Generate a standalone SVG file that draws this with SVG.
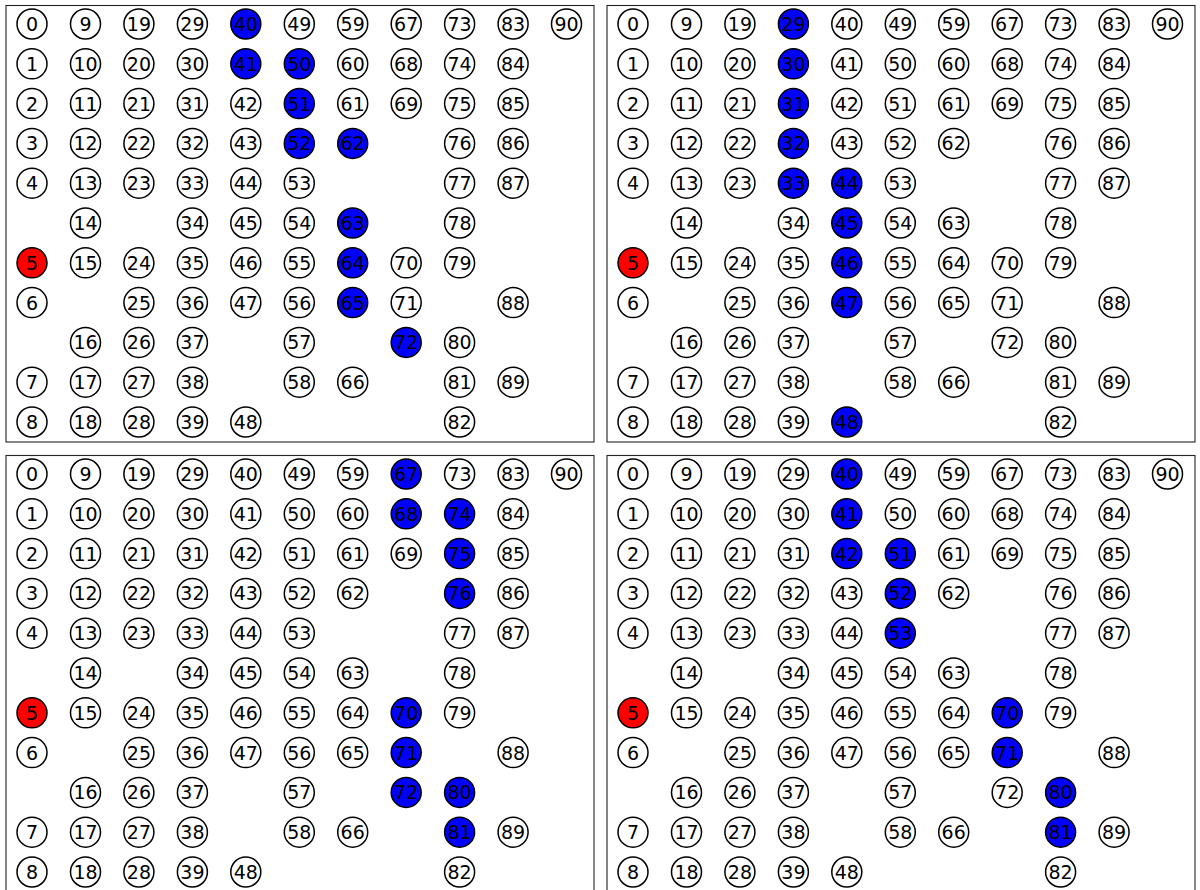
<svg xmlns="http://www.w3.org/2000/svg" width="1200" height="890" viewBox="0 0 1200 890">
<style>
.frame{fill:none;stroke:#222;stroke-width:1.1}
.n circle{fill:#fff;stroke:#000;stroke-width:1.5}
.n.b circle{fill:#0000ff}
.n.r circle{fill:#ff0000}
.n text{font-family:"DejaVu Sans",sans-serif;font-size:19px;text-anchor:middle;fill:#000}
</style>
<rect width="1200" height="890" fill="#fff"/>
<g id="panel-a">
<rect class="frame" x="6" y="5.5" width="588" height="436.5"/>
<g id="a0" class="n" transform="translate(32 24)"><circle r="15"/><text y="6.9">0</text></g>
<g id="a1" class="n" transform="translate(32 63.8)"><circle r="15"/><text y="6.9">1</text></g>
<g id="a2" class="n" transform="translate(32 103.6)"><circle r="15"/><text y="6.9">2</text></g>
<g id="a3" class="n" transform="translate(32 143.4)"><circle r="15"/><text y="6.9">3</text></g>
<g id="a4" class="n" transform="translate(32 183.2)"><circle r="15"/><text y="6.9">4</text></g>
<g id="a5" class="n r" transform="translate(32 262.8)"><circle r="15"/><text y="6.9">5</text></g>
<g id="a6" class="n" transform="translate(32 302.6)"><circle r="15"/><text y="6.9">6</text></g>
<g id="a7" class="n" transform="translate(32 382.2)"><circle r="15"/><text y="6.9">7</text></g>
<g id="a8" class="n" transform="translate(32 422)"><circle r="15"/><text y="6.9">8</text></g>
<g id="a9" class="n" transform="translate(85.5 24)"><circle r="15"/><text y="6.9">9</text></g>
<g id="a10" class="n" transform="translate(85.5 63.8)"><circle r="15"/><text y="6.9">10</text></g>
<g id="a11" class="n" transform="translate(85.5 103.6)"><circle r="15"/><text y="6.9">11</text></g>
<g id="a12" class="n" transform="translate(85.5 143.4)"><circle r="15"/><text y="6.9">12</text></g>
<g id="a13" class="n" transform="translate(85.5 183.2)"><circle r="15"/><text y="6.9">13</text></g>
<g id="a14" class="n" transform="translate(85.5 223)"><circle r="15"/><text y="6.9">14</text></g>
<g id="a15" class="n" transform="translate(85.5 262.8)"><circle r="15"/><text y="6.9">15</text></g>
<g id="a16" class="n" transform="translate(85.5 342.4)"><circle r="15"/><text y="6.9">16</text></g>
<g id="a17" class="n" transform="translate(85.5 382.2)"><circle r="15"/><text y="6.9">17</text></g>
<g id="a18" class="n" transform="translate(85.5 422)"><circle r="15"/><text y="6.9">18</text></g>
<g id="a19" class="n" transform="translate(138.9 24)"><circle r="15"/><text y="6.9">19</text></g>
<g id="a20" class="n" transform="translate(138.9 63.8)"><circle r="15"/><text y="6.9">20</text></g>
<g id="a21" class="n" transform="translate(138.9 103.6)"><circle r="15"/><text y="6.9">21</text></g>
<g id="a22" class="n" transform="translate(138.9 143.4)"><circle r="15"/><text y="6.9">22</text></g>
<g id="a23" class="n" transform="translate(138.9 183.2)"><circle r="15"/><text y="6.9">23</text></g>
<g id="a24" class="n" transform="translate(138.9 262.8)"><circle r="15"/><text y="6.9">24</text></g>
<g id="a25" class="n" transform="translate(138.9 302.6)"><circle r="15"/><text y="6.9">25</text></g>
<g id="a26" class="n" transform="translate(138.9 342.4)"><circle r="15"/><text y="6.9">26</text></g>
<g id="a27" class="n" transform="translate(138.9 382.2)"><circle r="15"/><text y="6.9">27</text></g>
<g id="a28" class="n" transform="translate(138.9 422)"><circle r="15"/><text y="6.9">28</text></g>
<g id="a29" class="n" transform="translate(192.4 24)"><circle r="15"/><text y="6.9">29</text></g>
<g id="a30" class="n" transform="translate(192.4 63.8)"><circle r="15"/><text y="6.9">30</text></g>
<g id="a31" class="n" transform="translate(192.4 103.6)"><circle r="15"/><text y="6.9">31</text></g>
<g id="a32" class="n" transform="translate(192.4 143.4)"><circle r="15"/><text y="6.9">32</text></g>
<g id="a33" class="n" transform="translate(192.4 183.2)"><circle r="15"/><text y="6.9">33</text></g>
<g id="a34" class="n" transform="translate(192.4 223)"><circle r="15"/><text y="6.9">34</text></g>
<g id="a35" class="n" transform="translate(192.4 262.8)"><circle r="15"/><text y="6.9">35</text></g>
<g id="a36" class="n" transform="translate(192.4 302.6)"><circle r="15"/><text y="6.9">36</text></g>
<g id="a37" class="n" transform="translate(192.4 342.4)"><circle r="15"/><text y="6.9">37</text></g>
<g id="a38" class="n" transform="translate(192.4 382.2)"><circle r="15"/><text y="6.9">38</text></g>
<g id="a39" class="n" transform="translate(192.4 422)"><circle r="15"/><text y="6.9">39</text></g>
<g id="a40" class="n b" transform="translate(245.8 24)"><circle r="15"/><text y="6.9">40</text></g>
<g id="a41" class="n b" transform="translate(245.8 63.8)"><circle r="15"/><text y="6.9">41</text></g>
<g id="a42" class="n" transform="translate(245.8 103.6)"><circle r="15"/><text y="6.9">42</text></g>
<g id="a43" class="n" transform="translate(245.8 143.4)"><circle r="15"/><text y="6.9">43</text></g>
<g id="a44" class="n" transform="translate(245.8 183.2)"><circle r="15"/><text y="6.9">44</text></g>
<g id="a45" class="n" transform="translate(245.8 223)"><circle r="15"/><text y="6.9">45</text></g>
<g id="a46" class="n" transform="translate(245.8 262.8)"><circle r="15"/><text y="6.9">46</text></g>
<g id="a47" class="n" transform="translate(245.8 302.6)"><circle r="15"/><text y="6.9">47</text></g>
<g id="a48" class="n" transform="translate(245.8 422)"><circle r="15"/><text y="6.9">48</text></g>
<g id="a49" class="n" transform="translate(299.3 24)"><circle r="15"/><text y="6.9">49</text></g>
<g id="a50" class="n b" transform="translate(299.3 63.8)"><circle r="15"/><text y="6.9">50</text></g>
<g id="a51" class="n b" transform="translate(299.3 103.6)"><circle r="15"/><text y="6.9">51</text></g>
<g id="a52" class="n b" transform="translate(299.3 143.4)"><circle r="15"/><text y="6.9">52</text></g>
<g id="a53" class="n" transform="translate(299.3 183.2)"><circle r="15"/><text y="6.9">53</text></g>
<g id="a54" class="n" transform="translate(299.3 223)"><circle r="15"/><text y="6.9">54</text></g>
<g id="a55" class="n" transform="translate(299.3 262.8)"><circle r="15"/><text y="6.9">55</text></g>
<g id="a56" class="n" transform="translate(299.3 302.6)"><circle r="15"/><text y="6.9">56</text></g>
<g id="a57" class="n" transform="translate(299.3 342.4)"><circle r="15"/><text y="6.9">57</text></g>
<g id="a58" class="n" transform="translate(299.3 382.2)"><circle r="15"/><text y="6.9">58</text></g>
<g id="a59" class="n" transform="translate(352.7 24)"><circle r="15"/><text y="6.9">59</text></g>
<g id="a60" class="n" transform="translate(352.7 63.8)"><circle r="15"/><text y="6.9">60</text></g>
<g id="a61" class="n" transform="translate(352.7 103.6)"><circle r="15"/><text y="6.9">61</text></g>
<g id="a62" class="n b" transform="translate(352.7 143.4)"><circle r="15"/><text y="6.9">62</text></g>
<g id="a63" class="n b" transform="translate(352.7 223)"><circle r="15"/><text y="6.9">63</text></g>
<g id="a64" class="n b" transform="translate(352.7 262.8)"><circle r="15"/><text y="6.9">64</text></g>
<g id="a65" class="n b" transform="translate(352.7 302.6)"><circle r="15"/><text y="6.9">65</text></g>
<g id="a66" class="n" transform="translate(352.7 382.2)"><circle r="15"/><text y="6.9">66</text></g>
<g id="a67" class="n" transform="translate(406.2 24)"><circle r="15"/><text y="6.9">67</text></g>
<g id="a68" class="n" transform="translate(406.2 63.8)"><circle r="15"/><text y="6.9">68</text></g>
<g id="a69" class="n" transform="translate(406.2 103.6)"><circle r="15"/><text y="6.9">69</text></g>
<g id="a70" class="n" transform="translate(406.2 262.8)"><circle r="15"/><text y="6.9">70</text></g>
<g id="a71" class="n" transform="translate(406.2 302.6)"><circle r="15"/><text y="6.9">71</text></g>
<g id="a72" class="n b" transform="translate(406.2 342.4)"><circle r="15"/><text y="6.9">72</text></g>
<g id="a73" class="n" transform="translate(459.6 24)"><circle r="15"/><text y="6.9">73</text></g>
<g id="a74" class="n" transform="translate(459.6 63.8)"><circle r="15"/><text y="6.9">74</text></g>
<g id="a75" class="n" transform="translate(459.6 103.6)"><circle r="15"/><text y="6.9">75</text></g>
<g id="a76" class="n" transform="translate(459.6 143.4)"><circle r="15"/><text y="6.9">76</text></g>
<g id="a77" class="n" transform="translate(459.6 183.2)"><circle r="15"/><text y="6.9">77</text></g>
<g id="a78" class="n" transform="translate(459.6 223)"><circle r="15"/><text y="6.9">78</text></g>
<g id="a79" class="n" transform="translate(459.6 262.8)"><circle r="15"/><text y="6.9">79</text></g>
<g id="a80" class="n" transform="translate(459.6 342.4)"><circle r="15"/><text y="6.9">80</text></g>
<g id="a81" class="n" transform="translate(459.6 382.2)"><circle r="15"/><text y="6.9">81</text></g>
<g id="a82" class="n" transform="translate(459.6 422)"><circle r="15"/><text y="6.9">82</text></g>
<g id="a83" class="n" transform="translate(513.1 24)"><circle r="15"/><text y="6.9">83</text></g>
<g id="a84" class="n" transform="translate(513.1 63.8)"><circle r="15"/><text y="6.9">84</text></g>
<g id="a85" class="n" transform="translate(513.1 103.6)"><circle r="15"/><text y="6.9">85</text></g>
<g id="a86" class="n" transform="translate(513.1 143.4)"><circle r="15"/><text y="6.9">86</text></g>
<g id="a87" class="n" transform="translate(513.1 183.2)"><circle r="15"/><text y="6.9">87</text></g>
<g id="a88" class="n" transform="translate(513.1 302.6)"><circle r="15"/><text y="6.9">88</text></g>
<g id="a89" class="n" transform="translate(513.1 382.2)"><circle r="15"/><text y="6.9">89</text></g>
<g id="a90" class="n" transform="translate(566.5 24)"><circle r="15"/><text y="6.9">90</text></g>
</g>
<g id="panel-b" transform="translate(601 0)">
<rect class="frame" x="6" y="5.5" width="588" height="436.5"/>
<g id="b0" class="n" transform="translate(32 24)"><circle r="15"/><text y="6.9">0</text></g>
<g id="b1" class="n" transform="translate(32 63.8)"><circle r="15"/><text y="6.9">1</text></g>
<g id="b2" class="n" transform="translate(32 103.6)"><circle r="15"/><text y="6.9">2</text></g>
<g id="b3" class="n" transform="translate(32 143.4)"><circle r="15"/><text y="6.9">3</text></g>
<g id="b4" class="n" transform="translate(32 183.2)"><circle r="15"/><text y="6.9">4</text></g>
<g id="b5" class="n r" transform="translate(32 262.8)"><circle r="15"/><text y="6.9">5</text></g>
<g id="b6" class="n" transform="translate(32 302.6)"><circle r="15"/><text y="6.9">6</text></g>
<g id="b7" class="n" transform="translate(32 382.2)"><circle r="15"/><text y="6.9">7</text></g>
<g id="b8" class="n" transform="translate(32 422)"><circle r="15"/><text y="6.9">8</text></g>
<g id="b9" class="n" transform="translate(85.5 24)"><circle r="15"/><text y="6.9">9</text></g>
<g id="b10" class="n" transform="translate(85.5 63.8)"><circle r="15"/><text y="6.9">10</text></g>
<g id="b11" class="n" transform="translate(85.5 103.6)"><circle r="15"/><text y="6.9">11</text></g>
<g id="b12" class="n" transform="translate(85.5 143.4)"><circle r="15"/><text y="6.9">12</text></g>
<g id="b13" class="n" transform="translate(85.5 183.2)"><circle r="15"/><text y="6.9">13</text></g>
<g id="b14" class="n" transform="translate(85.5 223)"><circle r="15"/><text y="6.9">14</text></g>
<g id="b15" class="n" transform="translate(85.5 262.8)"><circle r="15"/><text y="6.9">15</text></g>
<g id="b16" class="n" transform="translate(85.5 342.4)"><circle r="15"/><text y="6.9">16</text></g>
<g id="b17" class="n" transform="translate(85.5 382.2)"><circle r="15"/><text y="6.9">17</text></g>
<g id="b18" class="n" transform="translate(85.5 422)"><circle r="15"/><text y="6.9">18</text></g>
<g id="b19" class="n" transform="translate(138.9 24)"><circle r="15"/><text y="6.9">19</text></g>
<g id="b20" class="n" transform="translate(138.9 63.8)"><circle r="15"/><text y="6.9">20</text></g>
<g id="b21" class="n" transform="translate(138.9 103.6)"><circle r="15"/><text y="6.9">21</text></g>
<g id="b22" class="n" transform="translate(138.9 143.4)"><circle r="15"/><text y="6.9">22</text></g>
<g id="b23" class="n" transform="translate(138.9 183.2)"><circle r="15"/><text y="6.9">23</text></g>
<g id="b24" class="n" transform="translate(138.9 262.8)"><circle r="15"/><text y="6.9">24</text></g>
<g id="b25" class="n" transform="translate(138.9 302.6)"><circle r="15"/><text y="6.9">25</text></g>
<g id="b26" class="n" transform="translate(138.9 342.4)"><circle r="15"/><text y="6.9">26</text></g>
<g id="b27" class="n" transform="translate(138.9 382.2)"><circle r="15"/><text y="6.9">27</text></g>
<g id="b28" class="n" transform="translate(138.9 422)"><circle r="15"/><text y="6.9">28</text></g>
<g id="b29" class="n b" transform="translate(192.4 24)"><circle r="15"/><text y="6.9">29</text></g>
<g id="b30" class="n b" transform="translate(192.4 63.8)"><circle r="15"/><text y="6.9">30</text></g>
<g id="b31" class="n b" transform="translate(192.4 103.6)"><circle r="15"/><text y="6.9">31</text></g>
<g id="b32" class="n b" transform="translate(192.4 143.4)"><circle r="15"/><text y="6.9">32</text></g>
<g id="b33" class="n b" transform="translate(192.4 183.2)"><circle r="15"/><text y="6.9">33</text></g>
<g id="b34" class="n" transform="translate(192.4 223)"><circle r="15"/><text y="6.9">34</text></g>
<g id="b35" class="n" transform="translate(192.4 262.8)"><circle r="15"/><text y="6.9">35</text></g>
<g id="b36" class="n" transform="translate(192.4 302.6)"><circle r="15"/><text y="6.9">36</text></g>
<g id="b37" class="n" transform="translate(192.4 342.4)"><circle r="15"/><text y="6.9">37</text></g>
<g id="b38" class="n" transform="translate(192.4 382.2)"><circle r="15"/><text y="6.9">38</text></g>
<g id="b39" class="n" transform="translate(192.4 422)"><circle r="15"/><text y="6.9">39</text></g>
<g id="b40" class="n" transform="translate(245.8 24)"><circle r="15"/><text y="6.9">40</text></g>
<g id="b41" class="n" transform="translate(245.8 63.8)"><circle r="15"/><text y="6.9">41</text></g>
<g id="b42" class="n" transform="translate(245.8 103.6)"><circle r="15"/><text y="6.9">42</text></g>
<g id="b43" class="n" transform="translate(245.8 143.4)"><circle r="15"/><text y="6.9">43</text></g>
<g id="b44" class="n b" transform="translate(245.8 183.2)"><circle r="15"/><text y="6.9">44</text></g>
<g id="b45" class="n b" transform="translate(245.8 223)"><circle r="15"/><text y="6.9">45</text></g>
<g id="b46" class="n b" transform="translate(245.8 262.8)"><circle r="15"/><text y="6.9">46</text></g>
<g id="b47" class="n b" transform="translate(245.8 302.6)"><circle r="15"/><text y="6.9">47</text></g>
<g id="b48" class="n b" transform="translate(245.8 422)"><circle r="15"/><text y="6.9">48</text></g>
<g id="b49" class="n" transform="translate(299.3 24)"><circle r="15"/><text y="6.9">49</text></g>
<g id="b50" class="n" transform="translate(299.3 63.8)"><circle r="15"/><text y="6.9">50</text></g>
<g id="b51" class="n" transform="translate(299.3 103.6)"><circle r="15"/><text y="6.9">51</text></g>
<g id="b52" class="n" transform="translate(299.3 143.4)"><circle r="15"/><text y="6.9">52</text></g>
<g id="b53" class="n" transform="translate(299.3 183.2)"><circle r="15"/><text y="6.9">53</text></g>
<g id="b54" class="n" transform="translate(299.3 223)"><circle r="15"/><text y="6.9">54</text></g>
<g id="b55" class="n" transform="translate(299.3 262.8)"><circle r="15"/><text y="6.9">55</text></g>
<g id="b56" class="n" transform="translate(299.3 302.6)"><circle r="15"/><text y="6.9">56</text></g>
<g id="b57" class="n" transform="translate(299.3 342.4)"><circle r="15"/><text y="6.9">57</text></g>
<g id="b58" class="n" transform="translate(299.3 382.2)"><circle r="15"/><text y="6.9">58</text></g>
<g id="b59" class="n" transform="translate(352.7 24)"><circle r="15"/><text y="6.9">59</text></g>
<g id="b60" class="n" transform="translate(352.7 63.8)"><circle r="15"/><text y="6.9">60</text></g>
<g id="b61" class="n" transform="translate(352.7 103.6)"><circle r="15"/><text y="6.9">61</text></g>
<g id="b62" class="n" transform="translate(352.7 143.4)"><circle r="15"/><text y="6.9">62</text></g>
<g id="b63" class="n" transform="translate(352.7 223)"><circle r="15"/><text y="6.9">63</text></g>
<g id="b64" class="n" transform="translate(352.7 262.8)"><circle r="15"/><text y="6.9">64</text></g>
<g id="b65" class="n" transform="translate(352.7 302.6)"><circle r="15"/><text y="6.9">65</text></g>
<g id="b66" class="n" transform="translate(352.7 382.2)"><circle r="15"/><text y="6.9">66</text></g>
<g id="b67" class="n" transform="translate(406.2 24)"><circle r="15"/><text y="6.9">67</text></g>
<g id="b68" class="n" transform="translate(406.2 63.8)"><circle r="15"/><text y="6.9">68</text></g>
<g id="b69" class="n" transform="translate(406.2 103.6)"><circle r="15"/><text y="6.9">69</text></g>
<g id="b70" class="n" transform="translate(406.2 262.8)"><circle r="15"/><text y="6.9">70</text></g>
<g id="b71" class="n" transform="translate(406.2 302.6)"><circle r="15"/><text y="6.9">71</text></g>
<g id="b72" class="n" transform="translate(406.2 342.4)"><circle r="15"/><text y="6.9">72</text></g>
<g id="b73" class="n" transform="translate(459.6 24)"><circle r="15"/><text y="6.9">73</text></g>
<g id="b74" class="n" transform="translate(459.6 63.8)"><circle r="15"/><text y="6.9">74</text></g>
<g id="b75" class="n" transform="translate(459.6 103.6)"><circle r="15"/><text y="6.9">75</text></g>
<g id="b76" class="n" transform="translate(459.6 143.4)"><circle r="15"/><text y="6.9">76</text></g>
<g id="b77" class="n" transform="translate(459.6 183.2)"><circle r="15"/><text y="6.9">77</text></g>
<g id="b78" class="n" transform="translate(459.6 223)"><circle r="15"/><text y="6.9">78</text></g>
<g id="b79" class="n" transform="translate(459.6 262.8)"><circle r="15"/><text y="6.9">79</text></g>
<g id="b80" class="n" transform="translate(459.6 342.4)"><circle r="15"/><text y="6.9">80</text></g>
<g id="b81" class="n" transform="translate(459.6 382.2)"><circle r="15"/><text y="6.9">81</text></g>
<g id="b82" class="n" transform="translate(459.6 422)"><circle r="15"/><text y="6.9">82</text></g>
<g id="b83" class="n" transform="translate(513.1 24)"><circle r="15"/><text y="6.9">83</text></g>
<g id="b84" class="n" transform="translate(513.1 63.8)"><circle r="15"/><text y="6.9">84</text></g>
<g id="b85" class="n" transform="translate(513.1 103.6)"><circle r="15"/><text y="6.9">85</text></g>
<g id="b86" class="n" transform="translate(513.1 143.4)"><circle r="15"/><text y="6.9">86</text></g>
<g id="b87" class="n" transform="translate(513.1 183.2)"><circle r="15"/><text y="6.9">87</text></g>
<g id="b88" class="n" transform="translate(513.1 302.6)"><circle r="15"/><text y="6.9">88</text></g>
<g id="b89" class="n" transform="translate(513.1 382.2)"><circle r="15"/><text y="6.9">89</text></g>
<g id="b90" class="n" transform="translate(566.5 24)"><circle r="15"/><text y="6.9">90</text></g>
</g>
<g id="panel-c" transform="translate(0 450)">
<rect class="frame" x="6" y="5.5" width="588" height="450"/>
<g id="c0" class="n" transform="translate(32 24)"><circle r="15"/><text y="6.9">0</text></g>
<g id="c1" class="n" transform="translate(32 63.8)"><circle r="15"/><text y="6.9">1</text></g>
<g id="c2" class="n" transform="translate(32 103.6)"><circle r="15"/><text y="6.9">2</text></g>
<g id="c3" class="n" transform="translate(32 143.4)"><circle r="15"/><text y="6.9">3</text></g>
<g id="c4" class="n" transform="translate(32 183.2)"><circle r="15"/><text y="6.9">4</text></g>
<g id="c5" class="n r" transform="translate(32 262.8)"><circle r="15"/><text y="6.9">5</text></g>
<g id="c6" class="n" transform="translate(32 302.6)"><circle r="15"/><text y="6.9">6</text></g>
<g id="c7" class="n" transform="translate(32 382.2)"><circle r="15"/><text y="6.9">7</text></g>
<g id="c8" class="n" transform="translate(32 422)"><circle r="15"/><text y="6.9">8</text></g>
<g id="c9" class="n" transform="translate(85.5 24)"><circle r="15"/><text y="6.9">9</text></g>
<g id="c10" class="n" transform="translate(85.5 63.8)"><circle r="15"/><text y="6.9">10</text></g>
<g id="c11" class="n" transform="translate(85.5 103.6)"><circle r="15"/><text y="6.9">11</text></g>
<g id="c12" class="n" transform="translate(85.5 143.4)"><circle r="15"/><text y="6.9">12</text></g>
<g id="c13" class="n" transform="translate(85.5 183.2)"><circle r="15"/><text y="6.9">13</text></g>
<g id="c14" class="n" transform="translate(85.5 223)"><circle r="15"/><text y="6.9">14</text></g>
<g id="c15" class="n" transform="translate(85.5 262.8)"><circle r="15"/><text y="6.9">15</text></g>
<g id="c16" class="n" transform="translate(85.5 342.4)"><circle r="15"/><text y="6.9">16</text></g>
<g id="c17" class="n" transform="translate(85.5 382.2)"><circle r="15"/><text y="6.9">17</text></g>
<g id="c18" class="n" transform="translate(85.5 422)"><circle r="15"/><text y="6.9">18</text></g>
<g id="c19" class="n" transform="translate(138.9 24)"><circle r="15"/><text y="6.9">19</text></g>
<g id="c20" class="n" transform="translate(138.9 63.8)"><circle r="15"/><text y="6.9">20</text></g>
<g id="c21" class="n" transform="translate(138.9 103.6)"><circle r="15"/><text y="6.9">21</text></g>
<g id="c22" class="n" transform="translate(138.9 143.4)"><circle r="15"/><text y="6.9">22</text></g>
<g id="c23" class="n" transform="translate(138.9 183.2)"><circle r="15"/><text y="6.9">23</text></g>
<g id="c24" class="n" transform="translate(138.9 262.8)"><circle r="15"/><text y="6.9">24</text></g>
<g id="c25" class="n" transform="translate(138.9 302.6)"><circle r="15"/><text y="6.9">25</text></g>
<g id="c26" class="n" transform="translate(138.9 342.4)"><circle r="15"/><text y="6.9">26</text></g>
<g id="c27" class="n" transform="translate(138.9 382.2)"><circle r="15"/><text y="6.9">27</text></g>
<g id="c28" class="n" transform="translate(138.9 422)"><circle r="15"/><text y="6.9">28</text></g>
<g id="c29" class="n" transform="translate(192.4 24)"><circle r="15"/><text y="6.9">29</text></g>
<g id="c30" class="n" transform="translate(192.4 63.8)"><circle r="15"/><text y="6.9">30</text></g>
<g id="c31" class="n" transform="translate(192.4 103.6)"><circle r="15"/><text y="6.9">31</text></g>
<g id="c32" class="n" transform="translate(192.4 143.4)"><circle r="15"/><text y="6.9">32</text></g>
<g id="c33" class="n" transform="translate(192.4 183.2)"><circle r="15"/><text y="6.9">33</text></g>
<g id="c34" class="n" transform="translate(192.4 223)"><circle r="15"/><text y="6.9">34</text></g>
<g id="c35" class="n" transform="translate(192.4 262.8)"><circle r="15"/><text y="6.9">35</text></g>
<g id="c36" class="n" transform="translate(192.4 302.6)"><circle r="15"/><text y="6.9">36</text></g>
<g id="c37" class="n" transform="translate(192.4 342.4)"><circle r="15"/><text y="6.9">37</text></g>
<g id="c38" class="n" transform="translate(192.4 382.2)"><circle r="15"/><text y="6.9">38</text></g>
<g id="c39" class="n" transform="translate(192.4 422)"><circle r="15"/><text y="6.9">39</text></g>
<g id="c40" class="n" transform="translate(245.8 24)"><circle r="15"/><text y="6.9">40</text></g>
<g id="c41" class="n" transform="translate(245.8 63.8)"><circle r="15"/><text y="6.9">41</text></g>
<g id="c42" class="n" transform="translate(245.8 103.6)"><circle r="15"/><text y="6.9">42</text></g>
<g id="c43" class="n" transform="translate(245.8 143.4)"><circle r="15"/><text y="6.9">43</text></g>
<g id="c44" class="n" transform="translate(245.8 183.2)"><circle r="15"/><text y="6.9">44</text></g>
<g id="c45" class="n" transform="translate(245.8 223)"><circle r="15"/><text y="6.9">45</text></g>
<g id="c46" class="n" transform="translate(245.8 262.8)"><circle r="15"/><text y="6.9">46</text></g>
<g id="c47" class="n" transform="translate(245.8 302.6)"><circle r="15"/><text y="6.9">47</text></g>
<g id="c48" class="n" transform="translate(245.8 422)"><circle r="15"/><text y="6.9">48</text></g>
<g id="c49" class="n" transform="translate(299.3 24)"><circle r="15"/><text y="6.9">49</text></g>
<g id="c50" class="n" transform="translate(299.3 63.8)"><circle r="15"/><text y="6.9">50</text></g>
<g id="c51" class="n" transform="translate(299.3 103.6)"><circle r="15"/><text y="6.9">51</text></g>
<g id="c52" class="n" transform="translate(299.3 143.4)"><circle r="15"/><text y="6.9">52</text></g>
<g id="c53" class="n" transform="translate(299.3 183.2)"><circle r="15"/><text y="6.9">53</text></g>
<g id="c54" class="n" transform="translate(299.3 223)"><circle r="15"/><text y="6.9">54</text></g>
<g id="c55" class="n" transform="translate(299.3 262.8)"><circle r="15"/><text y="6.9">55</text></g>
<g id="c56" class="n" transform="translate(299.3 302.6)"><circle r="15"/><text y="6.9">56</text></g>
<g id="c57" class="n" transform="translate(299.3 342.4)"><circle r="15"/><text y="6.9">57</text></g>
<g id="c58" class="n" transform="translate(299.3 382.2)"><circle r="15"/><text y="6.9">58</text></g>
<g id="c59" class="n" transform="translate(352.7 24)"><circle r="15"/><text y="6.9">59</text></g>
<g id="c60" class="n" transform="translate(352.7 63.8)"><circle r="15"/><text y="6.9">60</text></g>
<g id="c61" class="n" transform="translate(352.7 103.6)"><circle r="15"/><text y="6.9">61</text></g>
<g id="c62" class="n" transform="translate(352.7 143.4)"><circle r="15"/><text y="6.9">62</text></g>
<g id="c63" class="n" transform="translate(352.7 223)"><circle r="15"/><text y="6.9">63</text></g>
<g id="c64" class="n" transform="translate(352.7 262.8)"><circle r="15"/><text y="6.9">64</text></g>
<g id="c65" class="n" transform="translate(352.7 302.6)"><circle r="15"/><text y="6.9">65</text></g>
<g id="c66" class="n" transform="translate(352.7 382.2)"><circle r="15"/><text y="6.9">66</text></g>
<g id="c67" class="n b" transform="translate(406.2 24)"><circle r="15"/><text y="6.9">67</text></g>
<g id="c68" class="n b" transform="translate(406.2 63.8)"><circle r="15"/><text y="6.9">68</text></g>
<g id="c69" class="n" transform="translate(406.2 103.6)"><circle r="15"/><text y="6.9">69</text></g>
<g id="c70" class="n b" transform="translate(406.2 262.8)"><circle r="15"/><text y="6.9">70</text></g>
<g id="c71" class="n b" transform="translate(406.2 302.6)"><circle r="15"/><text y="6.9">71</text></g>
<g id="c72" class="n b" transform="translate(406.2 342.4)"><circle r="15"/><text y="6.9">72</text></g>
<g id="c73" class="n" transform="translate(459.6 24)"><circle r="15"/><text y="6.9">73</text></g>
<g id="c74" class="n b" transform="translate(459.6 63.8)"><circle r="15"/><text y="6.9">74</text></g>
<g id="c75" class="n b" transform="translate(459.6 103.6)"><circle r="15"/><text y="6.9">75</text></g>
<g id="c76" class="n b" transform="translate(459.6 143.4)"><circle r="15"/><text y="6.9">76</text></g>
<g id="c77" class="n" transform="translate(459.6 183.2)"><circle r="15"/><text y="6.9">77</text></g>
<g id="c78" class="n" transform="translate(459.6 223)"><circle r="15"/><text y="6.9">78</text></g>
<g id="c79" class="n" transform="translate(459.6 262.8)"><circle r="15"/><text y="6.9">79</text></g>
<g id="c80" class="n b" transform="translate(459.6 342.4)"><circle r="15"/><text y="6.9">80</text></g>
<g id="c81" class="n b" transform="translate(459.6 382.2)"><circle r="15"/><text y="6.9">81</text></g>
<g id="c82" class="n" transform="translate(459.6 422)"><circle r="15"/><text y="6.9">82</text></g>
<g id="c83" class="n" transform="translate(513.1 24)"><circle r="15"/><text y="6.9">83</text></g>
<g id="c84" class="n" transform="translate(513.1 63.8)"><circle r="15"/><text y="6.9">84</text></g>
<g id="c85" class="n" transform="translate(513.1 103.6)"><circle r="15"/><text y="6.9">85</text></g>
<g id="c86" class="n" transform="translate(513.1 143.4)"><circle r="15"/><text y="6.9">86</text></g>
<g id="c87" class="n" transform="translate(513.1 183.2)"><circle r="15"/><text y="6.9">87</text></g>
<g id="c88" class="n" transform="translate(513.1 302.6)"><circle r="15"/><text y="6.9">88</text></g>
<g id="c89" class="n" transform="translate(513.1 382.2)"><circle r="15"/><text y="6.9">89</text></g>
<g id="c90" class="n" transform="translate(566.5 24)"><circle r="15"/><text y="6.9">90</text></g>
</g>
<g id="panel-d" transform="translate(601 450)">
<rect class="frame" x="6" y="5.5" width="588" height="450"/>
<g id="d0" class="n" transform="translate(32 24)"><circle r="15"/><text y="6.9">0</text></g>
<g id="d1" class="n" transform="translate(32 63.8)"><circle r="15"/><text y="6.9">1</text></g>
<g id="d2" class="n" transform="translate(32 103.6)"><circle r="15"/><text y="6.9">2</text></g>
<g id="d3" class="n" transform="translate(32 143.4)"><circle r="15"/><text y="6.9">3</text></g>
<g id="d4" class="n" transform="translate(32 183.2)"><circle r="15"/><text y="6.9">4</text></g>
<g id="d5" class="n r" transform="translate(32 262.8)"><circle r="15"/><text y="6.9">5</text></g>
<g id="d6" class="n" transform="translate(32 302.6)"><circle r="15"/><text y="6.9">6</text></g>
<g id="d7" class="n" transform="translate(32 382.2)"><circle r="15"/><text y="6.9">7</text></g>
<g id="d8" class="n" transform="translate(32 422)"><circle r="15"/><text y="6.9">8</text></g>
<g id="d9" class="n" transform="translate(85.5 24)"><circle r="15"/><text y="6.9">9</text></g>
<g id="d10" class="n" transform="translate(85.5 63.8)"><circle r="15"/><text y="6.9">10</text></g>
<g id="d11" class="n" transform="translate(85.5 103.6)"><circle r="15"/><text y="6.9">11</text></g>
<g id="d12" class="n" transform="translate(85.5 143.4)"><circle r="15"/><text y="6.9">12</text></g>
<g id="d13" class="n" transform="translate(85.5 183.2)"><circle r="15"/><text y="6.9">13</text></g>
<g id="d14" class="n" transform="translate(85.5 223)"><circle r="15"/><text y="6.9">14</text></g>
<g id="d15" class="n" transform="translate(85.5 262.8)"><circle r="15"/><text y="6.9">15</text></g>
<g id="d16" class="n" transform="translate(85.5 342.4)"><circle r="15"/><text y="6.9">16</text></g>
<g id="d17" class="n" transform="translate(85.5 382.2)"><circle r="15"/><text y="6.9">17</text></g>
<g id="d18" class="n" transform="translate(85.5 422)"><circle r="15"/><text y="6.9">18</text></g>
<g id="d19" class="n" transform="translate(138.9 24)"><circle r="15"/><text y="6.9">19</text></g>
<g id="d20" class="n" transform="translate(138.9 63.8)"><circle r="15"/><text y="6.9">20</text></g>
<g id="d21" class="n" transform="translate(138.9 103.6)"><circle r="15"/><text y="6.9">21</text></g>
<g id="d22" class="n" transform="translate(138.9 143.4)"><circle r="15"/><text y="6.9">22</text></g>
<g id="d23" class="n" transform="translate(138.9 183.2)"><circle r="15"/><text y="6.9">23</text></g>
<g id="d24" class="n" transform="translate(138.9 262.8)"><circle r="15"/><text y="6.9">24</text></g>
<g id="d25" class="n" transform="translate(138.9 302.6)"><circle r="15"/><text y="6.9">25</text></g>
<g id="d26" class="n" transform="translate(138.9 342.4)"><circle r="15"/><text y="6.9">26</text></g>
<g id="d27" class="n" transform="translate(138.9 382.2)"><circle r="15"/><text y="6.9">27</text></g>
<g id="d28" class="n" transform="translate(138.9 422)"><circle r="15"/><text y="6.9">28</text></g>
<g id="d29" class="n" transform="translate(192.4 24)"><circle r="15"/><text y="6.9">29</text></g>
<g id="d30" class="n" transform="translate(192.4 63.8)"><circle r="15"/><text y="6.9">30</text></g>
<g id="d31" class="n" transform="translate(192.4 103.6)"><circle r="15"/><text y="6.9">31</text></g>
<g id="d32" class="n" transform="translate(192.4 143.4)"><circle r="15"/><text y="6.9">32</text></g>
<g id="d33" class="n" transform="translate(192.4 183.2)"><circle r="15"/><text y="6.9">33</text></g>
<g id="d34" class="n" transform="translate(192.4 223)"><circle r="15"/><text y="6.9">34</text></g>
<g id="d35" class="n" transform="translate(192.4 262.8)"><circle r="15"/><text y="6.9">35</text></g>
<g id="d36" class="n" transform="translate(192.4 302.6)"><circle r="15"/><text y="6.9">36</text></g>
<g id="d37" class="n" transform="translate(192.4 342.4)"><circle r="15"/><text y="6.9">37</text></g>
<g id="d38" class="n" transform="translate(192.4 382.2)"><circle r="15"/><text y="6.9">38</text></g>
<g id="d39" class="n" transform="translate(192.4 422)"><circle r="15"/><text y="6.9">39</text></g>
<g id="d40" class="n b" transform="translate(245.8 24)"><circle r="15"/><text y="6.9">40</text></g>
<g id="d41" class="n b" transform="translate(245.8 63.8)"><circle r="15"/><text y="6.9">41</text></g>
<g id="d42" class="n b" transform="translate(245.8 103.6)"><circle r="15"/><text y="6.9">42</text></g>
<g id="d43" class="n" transform="translate(245.8 143.4)"><circle r="15"/><text y="6.9">43</text></g>
<g id="d44" class="n" transform="translate(245.8 183.2)"><circle r="15"/><text y="6.9">44</text></g>
<g id="d45" class="n" transform="translate(245.8 223)"><circle r="15"/><text y="6.9">45</text></g>
<g id="d46" class="n" transform="translate(245.8 262.8)"><circle r="15"/><text y="6.9">46</text></g>
<g id="d47" class="n" transform="translate(245.8 302.6)"><circle r="15"/><text y="6.9">47</text></g>
<g id="d48" class="n" transform="translate(245.8 422)"><circle r="15"/><text y="6.9">48</text></g>
<g id="d49" class="n" transform="translate(299.3 24)"><circle r="15"/><text y="6.9">49</text></g>
<g id="d50" class="n" transform="translate(299.3 63.8)"><circle r="15"/><text y="6.9">50</text></g>
<g id="d51" class="n b" transform="translate(299.3 103.6)"><circle r="15"/><text y="6.9">51</text></g>
<g id="d52" class="n b" transform="translate(299.3 143.4)"><circle r="15"/><text y="6.9">52</text></g>
<g id="d53" class="n b" transform="translate(299.3 183.2)"><circle r="15"/><text y="6.9">53</text></g>
<g id="d54" class="n" transform="translate(299.3 223)"><circle r="15"/><text y="6.9">54</text></g>
<g id="d55" class="n" transform="translate(299.3 262.8)"><circle r="15"/><text y="6.9">55</text></g>
<g id="d56" class="n" transform="translate(299.3 302.6)"><circle r="15"/><text y="6.9">56</text></g>
<g id="d57" class="n" transform="translate(299.3 342.4)"><circle r="15"/><text y="6.9">57</text></g>
<g id="d58" class="n" transform="translate(299.3 382.2)"><circle r="15"/><text y="6.9">58</text></g>
<g id="d59" class="n" transform="translate(352.7 24)"><circle r="15"/><text y="6.9">59</text></g>
<g id="d60" class="n" transform="translate(352.7 63.8)"><circle r="15"/><text y="6.9">60</text></g>
<g id="d61" class="n" transform="translate(352.7 103.6)"><circle r="15"/><text y="6.9">61</text></g>
<g id="d62" class="n" transform="translate(352.7 143.4)"><circle r="15"/><text y="6.9">62</text></g>
<g id="d63" class="n" transform="translate(352.7 223)"><circle r="15"/><text y="6.9">63</text></g>
<g id="d64" class="n" transform="translate(352.7 262.8)"><circle r="15"/><text y="6.9">64</text></g>
<g id="d65" class="n" transform="translate(352.7 302.6)"><circle r="15"/><text y="6.9">65</text></g>
<g id="d66" class="n" transform="translate(352.7 382.2)"><circle r="15"/><text y="6.9">66</text></g>
<g id="d67" class="n" transform="translate(406.2 24)"><circle r="15"/><text y="6.9">67</text></g>
<g id="d68" class="n" transform="translate(406.2 63.8)"><circle r="15"/><text y="6.9">68</text></g>
<g id="d69" class="n" transform="translate(406.2 103.6)"><circle r="15"/><text y="6.9">69</text></g>
<g id="d70" class="n b" transform="translate(406.2 262.8)"><circle r="15"/><text y="6.9">70</text></g>
<g id="d71" class="n b" transform="translate(406.2 302.6)"><circle r="15"/><text y="6.9">71</text></g>
<g id="d72" class="n" transform="translate(406.2 342.4)"><circle r="15"/><text y="6.9">72</text></g>
<g id="d73" class="n" transform="translate(459.6 24)"><circle r="15"/><text y="6.9">73</text></g>
<g id="d74" class="n" transform="translate(459.6 63.8)"><circle r="15"/><text y="6.9">74</text></g>
<g id="d75" class="n" transform="translate(459.6 103.6)"><circle r="15"/><text y="6.9">75</text></g>
<g id="d76" class="n" transform="translate(459.6 143.4)"><circle r="15"/><text y="6.9">76</text></g>
<g id="d77" class="n" transform="translate(459.6 183.2)"><circle r="15"/><text y="6.9">77</text></g>
<g id="d78" class="n" transform="translate(459.6 223)"><circle r="15"/><text y="6.9">78</text></g>
<g id="d79" class="n" transform="translate(459.6 262.8)"><circle r="15"/><text y="6.9">79</text></g>
<g id="d80" class="n b" transform="translate(459.6 342.4)"><circle r="15"/><text y="6.9">80</text></g>
<g id="d81" class="n b" transform="translate(459.6 382.2)"><circle r="15"/><text y="6.9">81</text></g>
<g id="d82" class="n" transform="translate(459.6 422)"><circle r="15"/><text y="6.9">82</text></g>
<g id="d83" class="n" transform="translate(513.1 24)"><circle r="15"/><text y="6.9">83</text></g>
<g id="d84" class="n" transform="translate(513.1 63.8)"><circle r="15"/><text y="6.9">84</text></g>
<g id="d85" class="n" transform="translate(513.1 103.6)"><circle r="15"/><text y="6.9">85</text></g>
<g id="d86" class="n" transform="translate(513.1 143.4)"><circle r="15"/><text y="6.9">86</text></g>
<g id="d87" class="n" transform="translate(513.1 183.2)"><circle r="15"/><text y="6.9">87</text></g>
<g id="d88" class="n" transform="translate(513.1 302.6)"><circle r="15"/><text y="6.9">88</text></g>
<g id="d89" class="n" transform="translate(513.1 382.2)"><circle r="15"/><text y="6.9">89</text></g>
<g id="d90" class="n" transform="translate(566.5 24)"><circle r="15"/><text y="6.9">90</text></g>
</g>
<g id="connectors"/>
</svg>
